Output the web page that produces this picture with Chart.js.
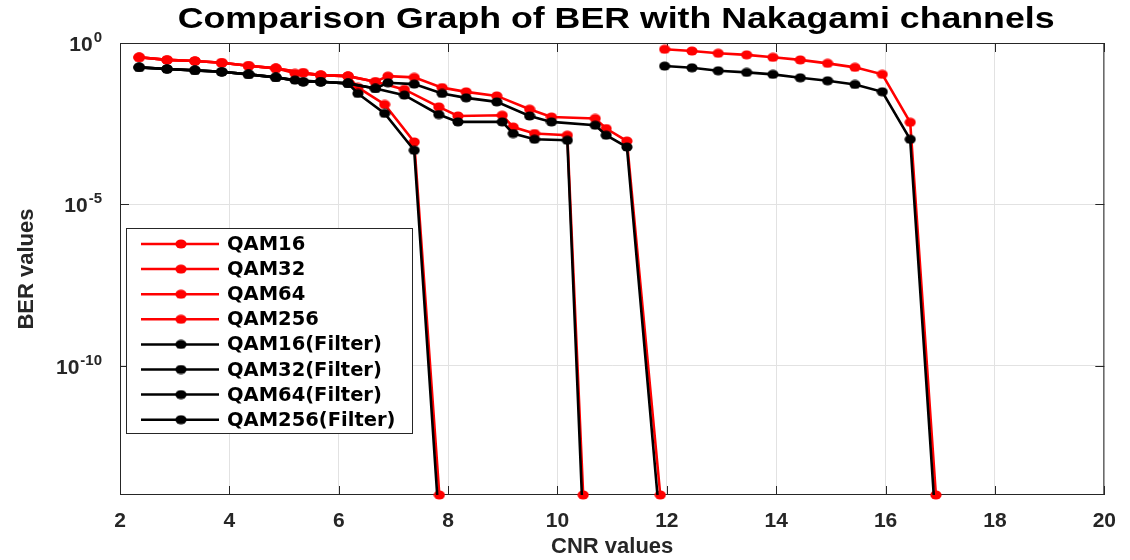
<!DOCTYPE html>
<html>
<head>
<meta charset="utf-8">
<script src="https://cdn.jsdelivr.net/npm/chart.js@4.4.0/dist/chart.umd.min.js"></script>
<style>
  html, body { margin: 0; padding: 0; background: #fff; }
  #wrap { width: 1130px; height: 560px; }
</style>
</head>
<body>
<div id="wrap"><canvas id="berChart" width="1130" height="560"></canvas></div>
<script>
// CNR (x) values for each curve
const cnrQam16 = [2.35, 2.86, 3.37, 3.86, 4.35, 4.85, 5.2, 5.67, 6.17, 6.35, 6.84, 7.38, 7.84];
const cnrQam32 = [2.35, 2.86, 3.37, 3.86, 4.35, 4.85, 5.35, 5.67, 6.17, 6.67, 7.2, 7.83, 8.18, 8.99, 9.19, 9.58, 10.18, 10.47];
const cnrQam64 = [2.35, 2.86, 3.37, 3.86, 4.35, 4.85, 5.35, 5.67, 6.17, 6.67, 6.9, 7.38, 7.89, 8.33, 8.89, 9.49, 9.89, 10.69, 10.89, 11.27, 11.88];
const cnrQam256 = [11.96, 12.46, 12.94, 13.46, 13.94, 14.44, 14.94, 15.44, 15.94, 16.45, 16.92];

// BER values without filter
const berQam16 = [0.36, 0.30, 0.276, 0.244, 0.197, 0.164, 0.115, 0.101, 0.094, 0.042, 0.0125, 8.6e-4, 1e-14];
const berQam32 = [0.36, 0.30, 0.276, 0.244, 0.197, 0.164, 0.12, 0.101, 0.094, 0.063, 0.0365, 0.0105, 5.5e-3, 5.8e-3, 2.5e-3, 1.57e-3, 1.39e-3, 1e-14];
const berQam64 = [0.36, 0.30, 0.276, 0.244, 0.197, 0.164, 0.12, 0.101, 0.094, 0.063, 0.094, 0.086, 0.0415, 0.0307, 0.023, 8.9e-3, 5.1e-3, 4.6e-3, 2.24e-3, 9.2e-4, 1e-14];
const berQam256 = [0.64, 0.565, 0.48, 0.43, 0.36, 0.30, 0.234, 0.176, 0.107, 3.5e-3, 1e-14];

// BER values with filter
const berQam16F = [0.176, 0.156, 0.142, 0.128, 0.107, 0.086, 0.071, 0.063, 0.056, 0.0274, 6.6e-3, 4.75e-4, 1e-15];
const berQam32F = [0.176, 0.156, 0.142, 0.128, 0.107, 0.086, 0.063, 0.063, 0.056, 0.039, 0.0243, 6.1e-3, 3.6e-3, 3.6e-3, 1.57e-3, 1.04e-3, 9.7e-4, 1e-15];
const berQam64F = [0.176, 0.156, 0.142, 0.128, 0.107, 0.086, 0.063, 0.063, 0.056, 0.039, 0.0585, 0.0533, 0.0274, 0.02, 0.015, 5.5e-3, 3.6e-3, 2.84e-3, 1.39e-3, 6e-4, 1e-15];
const berQam256F = [0.193, 0.171, 0.138, 0.123, 0.107, 0.0836, 0.0675, 0.052, 0.0308, 1.04e-3, 1e-15];

// y ticks: 10^exp
const yTickValues = [1e-10, 1e-5, 1];
const yTickExps = ['-10', '-5', '0'];

const chartTitle = 'Comparison Graph of BER with Nakagami channels';

const RED = '#ff0000';
const BLACK = '#000000';
const AXIS = '#262626';
const FONT = 'Liberation Sans';

// slightly wide dot, like the stretched matlab export
function makeDot(color) {
    const cv = document.createElement('canvas');
    cv.width = 12; cv.height = 10;
    const c = cv.getContext('2d');
    c.fillStyle = color;
    c.beginPath();
    c.ellipse(6, 5, 5.6, 4.6, 0, 0, Math.PI * 2);
    c.fill();
    return cv;
}
const redDot = makeDot(RED);
const blackDot = makeDot(BLACK);

const toPoints = (xs, ys) => xs.map((x, i) => ({ x: x, y: ys[i] }));

const makeSet = (label, xs, ys, color, order) => ({
    label: label,
    data: toPoints(xs, ys),
    borderColor: color,
    backgroundColor: color,
    pointBackgroundColor: color,
    pointStyle: color === RED ? redDot : blackDot,
    pointRadius: 5,
    borderWidth: 2.6,
    tension: 0,
    fill: false,
    order: order,
    clip: color === RED ? 10 : { left: 10, top: 10, right: 10, bottom: 0 }
});

const datasets = [
    makeSet('QAM16', cnrQam16, berQam16, RED, 2),
    makeSet('QAM32', cnrQam32, berQam32, RED, 2),
    makeSet('QAM64', cnrQam64, berQam64, RED, 2),
    makeSet('QAM256', cnrQam256, berQam256, RED, 2),
    makeSet('QAM16(Filter)', cnrQam16, berQam16F, BLACK, 1),
    makeSet('QAM32(Filter)', cnrQam32, berQam32F, BLACK, 1),
    makeSet('QAM64(Filter)', cnrQam64, berQam64F, BLACK, 1),
    makeSet('QAM256(Filter)', cnrQam256, berQam256F, BLACK, 1)
];

// box around the axes, inward ticks, 10^n labels and the title
const axesBox = {
    id: 'axesBox',
    beforeDatasetsDraw(chart) {
        const { ctx, chartArea: a, scales } = chart;
        ctx.save();
        ctx.strokeStyle = AXIS;
        ctx.lineWidth = 1;
        ctx.strokeRect(a.left + 0.5, a.top + 0.5, a.right - a.left - 1, a.bottom - a.top - 1);
        ctx.beginPath();
        scales.x.ticks.forEach(t => {
            const px = Math.round(scales.x.getPixelForValue(t.value)) + 0.5;
            ctx.moveTo(px, a.bottom); ctx.lineTo(px, a.bottom - 9);
            ctx.moveTo(px, a.top); ctx.lineTo(px, a.top + 9);
        });
        scales.y.ticks.forEach(t => {
            const py = Math.round(scales.y.getPixelForValue(t.value)) + 0.5;
            ctx.moveTo(a.left, py); ctx.lineTo(a.left + 9, py);
            ctx.moveTo(a.right, py); ctx.lineTo(a.right - 9, py);
        });
        ctx.stroke();

        // y labels as 10 + raised exponent
        ctx.fillStyle = AXIS;
        ctx.textBaseline = 'alphabetic';
        yTickValues.forEach((v, i) => {
            const py = scales.y.getPixelForValue(v);
            const right = a.left - 18;
            ctx.font = 'bold 15px "' + FONT + '"';
            const ew = ctx.measureText(yTickExps[i]).width;
            ctx.textAlign = 'right';
            ctx.fillText(yTickExps[i], right, py - 1);
            ctx.font = 'bold 21px "' + FONT + '"';
            ctx.fillText('10', right - ew - 1, py + 8);
        });

        // title centred over the axes, a bit wide
        ctx.font = 'bold 30px "' + FONT + '"';
        ctx.textAlign = 'center';
        ctx.textBaseline = 'middle';
        ctx.fillStyle = '#000';
        const cx = (a.left + a.right) / 2 + 4;
        ctx.translate(cx, 20);
        ctx.scale(1.19, 1);
        ctx.fillText(chartTitle, 0, 0);
        ctx.restore();
    }
};

// legend box inside the plot
const boxLegend = {
    id: 'boxLegend',
    afterDatasetsDraw(chart) {
        const c = chart.ctx;
        const left = 126, top = 228, w = 286, h = 205, rowH = 25.1;
        c.save();
        c.fillStyle = '#fff';
        c.fillRect(left, top, w, h);
        c.strokeStyle = AXIS;
        c.lineWidth = 1;
        c.strokeRect(left + 0.5, top + 0.5, w, h);
        c.font = 'bold 19.5px "DejaVu Sans"';
        c.textBaseline = 'middle';
        chart.data.datasets.forEach((ds, i) => {
            const y = top + 16 + i * rowH;
            c.strokeStyle = ds.borderColor;
            c.lineWidth = 2.5;
            c.beginPath();
            c.moveTo(left + 15, y);
            c.lineTo(left + 93, y);
            c.stroke();
            c.drawImage(ds.pointStyle, left + 49, y - 5);
            c.fillStyle = '#000';
            c.fillText(ds.label, left + 101, y + 1);
        });
        c.restore();
    }
};

const ctx = document.getElementById('berChart');
new Chart(ctx, {
    type: 'line',
    data: { datasets: datasets },
    options: {
        responsive: false,
        animation: false,
        layout: { padding: { left: 0, right: 22, top: 43, bottom: 0 } },
        plugins: {
            legend: { display: false },
            tooltip: { enabled: false },
            title: { display: false }
        },
        scales: {
            x: {
                type: 'linear',
                min: 2,
                max: 20,
                ticks: {
                    stepSize: 2,
                    maxRotation: 0,
                    color: AXIS,
                    padding: 14,
                    font: { family: FONT, size: 21, weight: 'bold' }
                },
                grid: { color: '#e2e2e2', drawTicks: false },
                border: { display: false },
                title: {
                    display: true,
                    text: 'CNR values',
                    color: AXIS,
                    padding: { top: 0, bottom: 0 },
                    font: { family: FONT, size: 22, weight: 'bold', lineHeight: 1.2 }
                },
                afterFit(scale) { scale.height = 65; }
            },
            y: {
                type: 'logarithmic',
                min: 1e-14,
                max: 1,
                afterBuildTicks(scale) {
                    scale.ticks = yTickValues.map(v => ({ value: v }));
                },
                ticks: { display: false },
                grid: { color: '#e2e2e2', drawTicks: false },
                border: { display: false },
                title: {
                    display: true,
                    text: 'BER values',
                    color: AXIS,
                    padding: { top: 14, bottom: 0 },
                    font: { family: FONT, size: 22, weight: 'bold', lineHeight: 1.2 }
                },
                afterFit(scale) { scale.width = 120; }
            }
        }
    },
    plugins: [axesBox, boxLegend]
});
</script>
</body>
</html>
